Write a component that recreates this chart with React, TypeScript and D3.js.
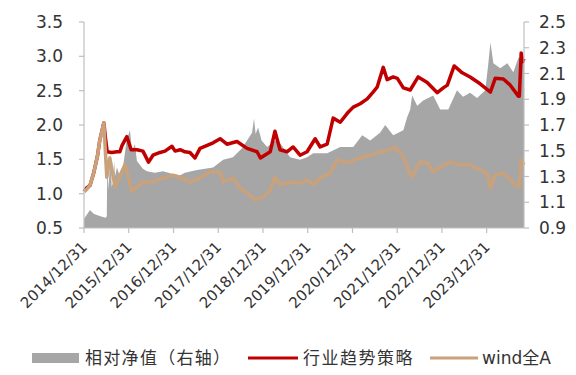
import React from "react";
import * as d3 from "d3";

// 行业趋势策略 (left axis)
const strategyNav: [string, number][] = [
  ["2014-12-31", 1.03], ["2015-01-20", 1.08], ["2015-02-18", 1.12], ["2015-03-20", 1.3],
  ["2015-04-20", 1.55], ["2015-05-09", 1.78], ["2015-06-11", 2.03], ["2015-06-25", 1.8],
  ["2015-07-08", 1.61], ["2015-08-15", 1.6], ["2015-09-26", 1.61], ["2015-10-20", 1.61],
  ["2015-11-06", 1.7], ["2015-11-30", 1.78], ["2015-12-16", 1.83], ["2016-01-05", 1.72],
  ["2016-01-20", 1.64], ["2016-03-07", 1.64], ["2016-04-25", 1.62], ["2016-06-10", 1.46],
  ["2016-07-16", 1.56], ["2016-09-12", 1.6], ["2016-10-22", 1.62], ["2016-12-18", 1.69],
  ["2017-01-13", 1.62], ["2017-02-23", 1.64], ["2017-04-03", 1.61], ["2017-05-14", 1.6],
  ["2017-06-08", 1.55], ["2017-06-24", 1.52], ["2017-08-04", 1.66], ["2017-11-19", 1.74],
  ["2018-01-15", 1.8], ["2018-03-12", 1.72], ["2018-06-02", 1.76], ["2018-08-23", 1.66],
  ["2018-11-13", 1.61], ["2018-12-10", 1.52], ["2019-02-28", 1.61], ["2019-04-08", 1.91],
  ["2019-05-19", 1.64], ["2019-07-15", 1.61], ["2019-09-03", 1.68], ["2019-10-30", 1.56],
  ["2019-12-26", 1.61], ["2020-03-01", 1.8], ["2020-04-11", 1.68], ["2020-06-07", 1.72],
  ["2020-07-26", 2.1], ["2020-09-22", 2.04], ["2020-11-18", 2.17], ["2021-01-06", 2.26],
  ["2021-03-04", 2.31], ["2021-04-30", 2.38], ["2021-06-17", 2.48], ["2021-07-20", 2.55],
  ["2021-09-08", 2.84], ["2021-10-10", 2.66], ["2021-11-28", 2.7], ["2022-01-01", 2.68],
  ["2022-02-19", 2.54], ["2022-04-16", 2.51], ["2022-06-20", 2.7], ["2022-09-02", 2.62],
  ["2022-11-23", 2.47], ["2023-01-11", 2.54], ["2023-02-13", 2.58], ["2023-04-10", 2.86],
  ["2023-06-15", 2.76], ["2023-08-18", 2.7], ["2023-11-08", 2.6], ["2024-01-31", 2.48],
  ["2024-03-10", 2.68], ["2024-05-15", 2.67], ["2024-07-11", 2.58], ["2024-09-15", 2.42],
  ["2024-09-23", 2.42], ["2024-10-08", 3.05], ["2024-10-20", 2.92], ["2024-10-31", 2.97],
];

// wind全A (left axis)
const windA: [string, number][] = [
  ["2014-12-31", 1.03], ["2015-01-20", 1.06], ["2015-02-18", 1.12], ["2015-03-20", 1.3],
  ["2015-04-20", 1.55], ["2015-05-09", 1.78], ["2015-06-11", 2.03], ["2015-07-05", 1.24],
  ["2015-07-30", 1.52], ["2015-09-10", 1.1], ["2015-11-30", 1.42], ["2016-01-27", 1.03],
  ["2016-03-07", 1.1], ["2016-04-25", 1.17], ["2016-07-16", 1.17], ["2016-10-06", 1.23],
  ["2016-12-27", 1.27], ["2017-03-09", 1.23], ["2017-05-14", 1.17], ["2017-08-04", 1.23],
  ["2017-10-25", 1.32], ["2018-01-15", 1.32], ["2018-02-09", 1.17], ["2018-04-30", 1.23],
  ["2018-06-27", 1.08], ["2018-08-23", 1.01], ["2018-10-27", 0.91], ["2019-01-01", 0.95],
  ["2019-02-28", 1.05], ["2019-04-08", 1.24], ["2019-05-19", 1.13], ["2019-08-09", 1.17],
  ["2019-10-30", 1.15], ["2019-12-26", 1.2], ["2020-02-14", 1.13], ["2020-04-11", 1.23],
  ["2020-07-02", 1.3], ["2020-08-28", 1.49], ["2020-11-18", 1.45], ["2021-03-04", 1.52],
  ["2021-05-24", 1.56], ["2021-08-13", 1.61], ["2021-11-04", 1.64], ["2021-12-15", 1.68],
  ["2022-02-19", 1.54], ["2022-04-25", 1.24], ["2022-07-06", 1.46], ["2022-09-02", 1.45],
  ["2022-10-21", 1.32], ["2022-12-17", 1.39], ["2023-03-08", 1.46], ["2023-05-28", 1.42],
  ["2023-08-18", 1.42], ["2023-11-08", 1.34], ["2024-01-06", 1.3], ["2024-01-31", 1.08],
  ["2024-03-10", 1.27], ["2024-05-15", 1.3], ["2024-07-11", 1.2], ["2024-09-15", 1.1],
  ["2024-09-23", 1.1], ["2024-10-08", 1.49], ["2024-10-31", 1.42],
];

// 相对净值 (right axis)
const relativeNav: [string, number][] = [
  ["2014-12-31", 0.97], ["2015-01-20", 1.0], ["2015-02-18", 1.04], ["2015-03-20", 1.01],
  ["2015-04-20", 1.0], ["2015-05-20", 0.99], ["2015-06-25", 0.98], ["2015-07-05", 0.99],
  ["2015-07-10", 1.45], ["2015-07-18", 1.2], ["2015-07-25", 1.3], ["2015-08-05", 1.48],
  ["2015-08-14", 1.22], ["2015-08-24", 1.25], ["2015-09-03", 1.42], ["2015-09-10", 1.3],
  ["2015-09-26", 1.37], ["2015-10-20", 1.3], ["2015-11-14", 1.37], ["2015-12-10", 1.55],
  ["2015-12-24", 1.61], ["2016-01-10", 1.66], ["2016-01-27", 1.5], ["2016-02-20", 1.55],
  ["2016-03-07", 1.42], ["2016-04-01", 1.39], ["2016-04-25", 1.36], ["2016-05-28", 1.34],
  ["2016-08-01", 1.33], ["2016-10-06", 1.34], ["2016-12-27", 1.32], ["2017-02-23", 1.31],
  ["2017-04-03", 1.33], ["2017-07-10", 1.35], ["2017-11-19", 1.37], ["2018-02-09", 1.43],
  ["2018-04-30", 1.45], ["2018-07-13", 1.52], ["2018-08-23", 1.58], ["2018-10-03", 1.64],
  ["2018-10-19", 1.75], ["2018-11-01", 1.63], ["2018-11-21", 1.68], ["2018-12-20", 1.58],
  ["2019-02-03", 1.53], ["2019-04-08", 1.58], ["2019-05-19", 1.56], ["2019-08-09", 1.45],
  ["2019-10-30", 1.43], ["2019-12-26", 1.45], ["2020-02-14", 1.48], ["2020-06-07", 1.48],
  ["2020-09-22", 1.53], ["2021-01-06", 1.53], ["2021-03-20", 1.62], ["2021-05-24", 1.58],
  ["2021-08-13", 1.64], ["2021-09-24", 1.7], ["2021-11-28", 1.62], ["2022-02-19", 1.66],
  ["2022-03-22", 1.76], ["2022-04-16", 1.82], ["2022-05-02", 1.93], ["2022-06-12", 1.85],
  ["2022-07-31", 1.89], ["2022-10-21", 1.93], ["2022-12-17", 1.82], ["2023-02-21", 1.82],
  ["2023-05-03", 1.97], ["2023-06-21", 1.92], ["2023-08-18", 1.95], ["2023-10-14", 1.91],
  ["2023-12-20", 1.97], ["2024-01-14", 2.18], ["2024-01-31", 2.34], ["2024-02-24", 2.18],
  ["2024-04-20", 2.14], ["2024-06-17", 2.18], ["2024-08-05", 2.11], ["2024-09-15", 2.22],
  ["2024-10-31", 2.23],
];

const leftTicks = [0.5, 1.0, 1.5, 2.0, 2.5, 3.0, 3.5];
const rightTicks = [0.9, 1.1, 1.3, 1.5, 1.7, 1.9, 2.1, 2.3, 2.5];
const xTickLabels = [
  "2014/12/31", "2015/12/31", "2016/12/31", "2017/12/31", "2018/12/31",
  "2019/12/31", "2020/12/31", "2021/12/31", "2022/12/31", "2023/12/31",
];

const RED = "#C00000";
const TAN = "#C9A27C";
const GRAY = "#A6A6A6";
const AXIS = "#BFBFBF";
const TEXT = "#333333";
const NUM_FONT = "'DejaVu Sans', sans-serif";
const CJK_FONT = "'Noto Sans CJK SC', sans-serif";

export default function App() {
  const width = 576;
  const height = 375;
  const left = 84;
  const right = 524;
  const top = 22;
  const bottom = 228;

  const parse = d3.timeParse("%Y-%m-%d");
  const x = d3
    .scaleTime()
    .domain([parse("2014-12-31")!, parse("2024-10-31")!])
    .range([left, right]);
  const yL = d3.scaleLinear().domain([0.5, 3.5]).range([bottom, top]);
  const yR = d3.scaleLinear().domain([0.9, 2.5]).range([bottom, top]);

  const area = d3
    .area<[string, number]>()
    .x((d) => x(parse(d[0])!))
    .y0(yR(0.9))
    .y1((d) => yR(d[1]));
  const lineL = d3
    .line<[string, number]>()
    .x((d) => x(parse(d[0])!))
    .y((d) => yL(d[1]));

  return (
    <svg width={width} height={height} style={{ position: "absolute", left: 0, top: 0 }}>
      <rect width={width} height={height} fill="#fff" />
      <path d={area(relativeNav) || ""} fill={GRAY} />
      <path d={lineL(strategyNav) || ""} fill="none" stroke={RED} strokeWidth={3.5} strokeLinejoin="round" />
      <path d={lineL(windA) || ""} fill="none" stroke={TAN} strokeWidth={3.5} strokeLinejoin="round" />

      {/* axes */}
      <g stroke={AXIS} strokeWidth={1.2} fill="none">
        <line x1={left} x2={left} y1={top} y2={bottom} />
        <line x1={right} x2={right} y1={top} y2={bottom} />
        <line x1={left} x2={right} y1={bottom} y2={bottom} />
        {leftTicks.map((t) => (
          <line key={"lt" + t} x1={left - 5} x2={left} y1={yL(t)} y2={yL(t)} />
        ))}
        {rightTicks.map((t) => (
          <line key={"rt" + t} x1={right} x2={right + 5} y1={yR(t)} y2={yR(t)} />
        ))}
        {xTickLabels.map((s) => {
          const xx = x(parse(s.replace(/\//g, "-"))!);
          return <line key={"xt" + s} x1={xx} x2={xx} y1={bottom} y2={bottom + 5} />;
        })}
      </g>

      <g fill={TEXT} fontFamily={NUM_FONT} fontSize={17}>
        {leftTicks.map((t) => (
          <text key={"ll" + t} x={63} y={yL(t)} dy="0.36em" textAnchor="end">
            {t.toFixed(1)}
          </text>
        ))}
        {rightTicks.map((t) => (
          <text key={"rl" + t} x={539} y={yR(t)} dy="0.36em">
            {t.toFixed(1)}
          </text>
        ))}
      </g>
      <g fill={TEXT} fontFamily={NUM_FONT} fontSize={15}>
        {xTickLabels.map((s) => {
          const xx = x(parse(s.replace(/\//g, "-"))!);
          return (
            <text key={"xl" + s} transform={`translate(${xx + 4},${bottom + 20}) rotate(-45)`} textAnchor="end">
              {s}
            </text>
          );
        })}
      </g>

      {/* legend */}
      <g>
        <rect x={32} y={353} width={47} height={10} fill={GRAY} />
        <text x={85} y={358} dy="0.36em" fontFamily={CJK_FONT} fontSize={17} letterSpacing={1.3} fill={TEXT}>
          相对净值（右轴）
        </text>
        <line x1={248} x2={298} y1={358} y2={358} stroke={RED} strokeWidth={3} />
        <text x={303} y={358} dy="0.36em" fontFamily={CJK_FONT} fontSize={17} letterSpacing={1.5} fill={TEXT}>
          行业趋势策略
        </text>
        <line x1={430} x2={478} y1={358} y2={358} stroke={TAN} strokeWidth={3} />
        <text x={482} y={358} dy="0.36em" fontFamily={NUM_FONT} fontSize={17} fill={TEXT}>
          wind<tspan fontFamily={CJK_FONT}>全</tspan>A
        </text>
      </g>
    </svg>
  );
}
